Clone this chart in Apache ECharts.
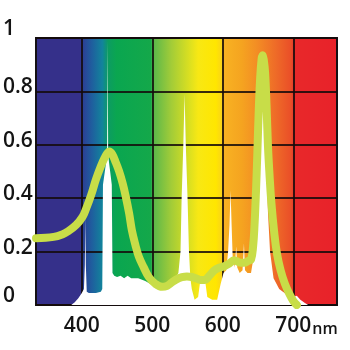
<!DOCTYPE html>
<html>
<head>
<meta charset="utf-8">
<script src="https://cdn.jsdelivr.net/npm/echarts@6/dist/echarts.min.js"></script>
<style>
html,body{margin:0;padding:0;background:#fff;}
#c{width:350px;height:350px;}
</style>
</head>
<body>
<div id="c"></div>
<script>
// x axis tick labels (nm)
var xTicks = [400, 500, 600, 700];
var xMin = 335, xMax = 762;

// Lamp emission spectrum (white area)
var lampNm  = [335, 385, 390, 395, 400, 403, 404.3, 405, 405.7, 407, 410, 420, 427, 429, 430, 435.8, 436.6, 437.4, 442.5, 443.5, 446, 450, 455, 460, 465, 470, 480, 490, 500, 510, 520, 528, 533, 537, 540, 541.6, 544, 545.8, 547.5, 550, 552, 554, 556, 560, 565, 568, 575, 578, 585, 592, 597, 601, 605, 607.5, 609.5, 611, 612.5, 614, 617, 619, 620.5, 624, 628, 630, 631.5, 635, 640, 645, 648, 651, 654, 656, 658, 661, 664, 667, 672, 680, 690, 697, 700, 705, 710, 716, 721, 762];
var lampVal = [0, 0, 0.01, 0.025, 0.045, 0.06, 0.15, 0.33, 0.15, 0.05, 0.045, 0.045, 0.05, 0.06, 0.45, 0.56, 0.99, 0.56, 0.45, 0.12, 0.11, 0.105, 0.11, 0.1, 0.11, 0.1, 0.1, 0.09, 0.075, 0.06, 0.06, 0.07, 0.1, 0.12, 0.2, 0.4, 0.6, 0.79, 0.6, 0.4, 0.2, 0.1, 0.06, 0.02, 0.03, 0.09, 0.09, 0.03, 0.02, 0.02, 0.08, 0.12, 0.13, 0.2, 0.3, 0.43, 0.3, 0.18, 0.14, 0.22, 0.14, 0.12, 0.13, 0.23, 0.13, 0.12, 0.12, 0.2, 0.35, 0.6, 0.8, 0.86, 0.8, 0.6, 0.35, 0.2, 0.1, 0.06, 0.04, 0.02, 0.03, 0.035, 0.02, 0.008, 0, 0];

// Plant absorption curve (yellow-green line)
var absNm  = [335, 360, 373, 380, 392, 401, 406, 413, 420, 427, 432, 436, 439, 443, 448, 453, 458, 462, 467, 471, 476, 481, 488, 495, 504, 514, 521, 528, 535, 542, 549, 556, 562, 568, 574, 581, 588, 595, 602, 609, 616, 623, 630, 636, 640, 643, 645, 647, 649, 651, 653, 655, 656.5, 658, 660, 662, 664, 666, 669, 673, 677, 682, 688, 694, 700, 705];
var absVal = [0.25, 0.255, 0.265, 0.275, 0.3, 0.33, 0.36, 0.41, 0.47, 0.52, 0.55, 0.568, 0.575, 0.565, 0.535, 0.5, 0.455, 0.41, 0.345, 0.28, 0.225, 0.18, 0.14, 0.105, 0.08, 0.068, 0.072, 0.085, 0.097, 0.104, 0.107, 0.105, 0.1, 0.094, 0.094, 0.11, 0.13, 0.14, 0.145, 0.155, 0.168, 0.16, 0.158, 0.165, 0.17, 0.22, 0.3, 0.42, 0.57, 0.73, 0.85, 0.92, 0.935, 0.92, 0.87, 0.75, 0.6, 0.5, 0.38, 0.27, 0.19, 0.13, 0.08, 0.044, 0.015, 0];

function pairs(xs, ys){ return xs.map(function(x,i){ return [x, ys[i]]; }); }
function pos(nm){ return (nm - xMin) / (xMax - xMin); }

var spectrum = {
  type: 'linear', x: 0, y: 0, x2: 1, y2: 0,
  colorStops: [
    {offset: pos(335), color: '#35308a'},
    {offset: pos(398), color: '#35308a'},
    {offset: pos(402), color: '#2c3e94'},
    {offset: pos(415), color: '#1f5e9e'},
    {offset: pos(430), color: '#12849c'},
    {offset: pos(438), color: '#0c9c62'},
    {offset: pos(450), color: '#0aa650'},
    {offset: pos(498), color: '#14a84a'},
    {offset: pos(502), color: '#5ab84a'},
    {offset: pos(527), color: '#a2cc38'},
    {offset: pos(553), color: '#dce020'},
    {offset: pos(565), color: '#f8e814'},
    {offset: pos(590), color: '#ffe600'},
    {offset: pos(598), color: '#fad418'},
    {offset: pos(602), color: '#f8b222'},
    {offset: pos(626), color: '#f5a420'},
    {offset: pos(647), color: '#f38e24'},
    {offset: pos(675), color: '#ee6a28'},
    {offset: pos(696), color: '#ea4e28'},
    {offset: pos(702), color: '#e8282a'},
    {offset: 1, color: '#e8222a'}
  ]
};

var chart = echarts.init(document.getElementById('c'), null, {renderer: 'canvas'});
chart.setOption({
  animation: false,
  backgroundColor: '#ffffff',
  grid: {
    left: 34, right: 13, top: 38, bottom: 45,
    show: true,
    backgroundColor: spectrum,
    borderColor: '#141014',
    borderWidth: 2
  },
  xAxis: {
    type: 'value',
    min: xMin, max: xMax,
    axisLine: {show: false},
    axisTick: {show: false, customValues: xTicks},
    splitLine: {show: true, lineStyle: {color: 'rgba(20,10,10,0.85)', width: 2}},
    axisLabel: {
      customValues: xTicks,
      margin: 11,
      color: '#141414',
      fontFamily: 'Open Sans',
      fontWeight: 600,
      fontSize: 21,
      formatter: function(v){
        return v === 700 ? '{s|nm}700{u|nm}' : String(v);
      },
      rich: {
        s: {fontFamily: 'Open Sans', fontWeight: 600, fontSize: 16, color: 'rgba(0,0,0,0)', padding: [0, 1, 0, 0], verticalAlign: 'bottom'},
        u: {fontFamily: 'Open Sans', fontWeight: 600, fontSize: 16, color: '#141414', padding: [0, 0, 0, 1], verticalAlign: 'bottom'}
      }
    }
  },
  yAxis: {
    type: 'value',
    min: 0, max: 1, interval: 0.2,
    axisLine: {show: false},
    axisTick: {show: false},
    splitLine: {show: true, lineStyle: {color: 'rgba(20,10,10,0.85)', width: 2}},
    axisLabel: {
      align: 'left',
      margin: 33,
      color: '#141414',
      fontFamily: 'Open Sans',
      fontSize: 21,
      verticalAlign: 'middle',
      showMinLabel: true,
      showMaxLabel: true,
      formatter: function(v){
        var s = String(Math.round(v * 10) / 10);
        return (v === 0 || v === 1) ? '{e|' + s + '}' : '{m|' + s + '}';
      },
      rich: {
        m: {fontFamily: 'Open Sans', fontWeight: 600, fontSize: 21, color: '#141414', padding: [0, 0, 8, 0]},
        e: {fontFamily: 'Open Sans', fontWeight: 600, fontSize: 21, color: '#141414', padding: [0, 0, 18, 0]}
      }
    }
  },
  series: [
    {
      type: 'line',
      data: pairs(lampNm, lampVal),
      symbol: 'none',
      smooth: false,
      lineStyle: {width: 0, color: '#ffffff'},
      areaStyle: {color: '#ffffff', opacity: 1},
      z: 2
    },
    {
      type: 'line',
      data: pairs(absNm, absVal),
      symbol: 'none',
      smooth: 0.4,
      lineStyle: {width: 8, color: '#c8dd48', cap: 'round'},
      z: 3
    }
  ]
});
</script>
</body>
</html>
